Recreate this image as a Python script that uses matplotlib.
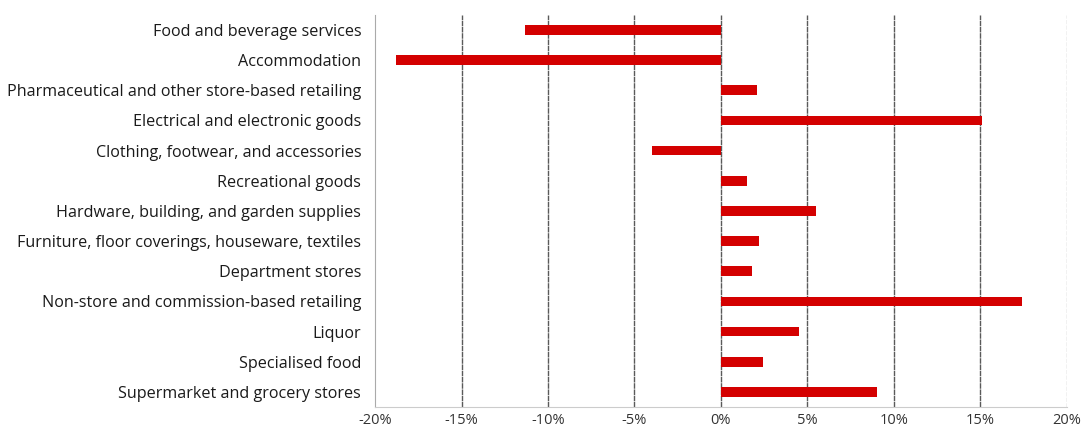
import matplotlib.pyplot as plt
from matplotlib.ticker import FuncFormatter

categories = [
    "Food and beverage services",
    "Accommodation",
    "Pharmaceutical and other store-based retailing",
    "Electrical and electronic goods",
    "Clothing, footwear, and accessories",
    "Recreational goods",
    "Hardware, building, and garden supplies",
    "Furniture, floor coverings, houseware, textiles",
    "Department stores",
    "Non-store and commission-based retailing",
    "Liquor",
    "Specialised food",
    "Supermarket and grocery stores",
]
change_pct = [-11.3, -18.8, 2.1, 15.1, -4.0, 1.5, 5.5, 2.2, 1.8, 17.4, 4.5, 2.45, 9.0]
xticks = [-20, -15, -10, -5, 0, 5, 10, 15, 20]

plt.rcParams['font.family'] = ['Open Sans', 'DejaVu Sans']

fig = plt.figure(figsize=(10.82, 4.26), dpi=100)
ax = fig.add_axes([0.3466, 0.0446, 0.6394, 0.9204])

ypos = list(range(len(categories)))
ax.barh(ypos, change_pct, height=0.32, color='#d40000', zorder=3)

ax.set_xlim(-20, 20)
ax.set_ylim(len(categories) - 0.5, -0.5)
ax.set_yticks(ypos)
ax.set_yticklabels(categories, fontsize=11.6, color='#1a1a1a')
ax.set_xticks(xticks)
ax.xaxis.set_major_formatter(FuncFormatter(lambda v, p: f"{v:.0f}%"))
ax.tick_params(axis='x', labelsize=10.5, colors='#333333', length=0, pad=4)
ax.tick_params(axis='y', length=0, pad=10)

# vertical gridlines, inner ones darker than the outer edges
for v in xticks[1:-1]:
    ax.axvline(v, color='#5a5a5a', lw=1.0, ls=(0, (4, 0.5)), zorder=1)
ax.axvline(20, color='#bbbbbb', lw=1.0, ls=(0, (3, 1)), zorder=1)

for side in ['top', 'right']:
    ax.spines[side].set_visible(False)
ax.spines['left'].set_color('#aaaaaa')
ax.spines['bottom'].set_color('#cccccc')
ax.spines['bottom'].set_linestyle((0, (3, 1)))

fig.savefig('out.png', dpi=100, facecolor='white')
